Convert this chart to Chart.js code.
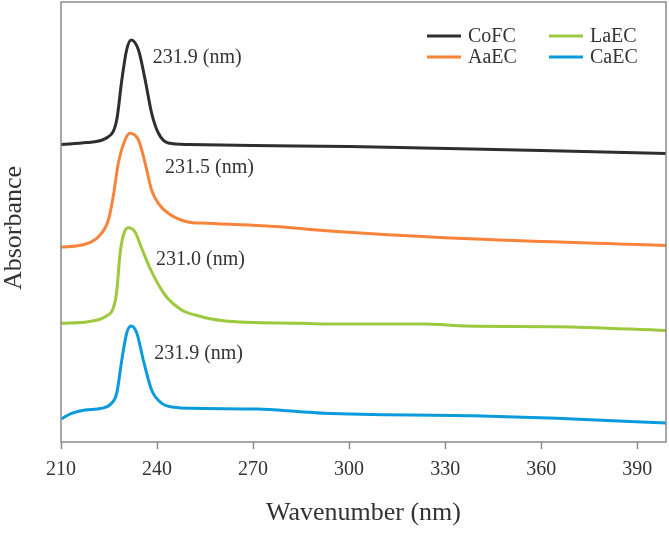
<!DOCTYPE html>
<html>
<head>
<meta charset="utf-8">
<script src="https://cdn.jsdelivr.net/npm/chart.js@4.4.1/dist/chart.umd.min.js"></script>
<style>
  html, body { margin: 0; padding: 0; background: #fff; }
  #wrap { width: 669px; height: 534px; }
</style>
</head>
<body>
<div id="wrap"><canvas id="uvChart" width="669" height="534"></canvas></div>
<script>
// wavelength (nm) and stacked absorbance values
const seriesNames = ['CoFC', 'AaEC', 'LaEC', 'CaEC'];
const seriesColors = ['#2e2e2e', '#f6843a', '#9dc93f', '#0a9bdc'];

const cofcX = [210, 218, 224.7, 227.4, 229, 230.5, 231.9, 234.2, 236.3, 238.3, 240.4, 243.5, 249.7, 270, 300, 323, 360, 399];
const cofcY = [2.975, 2.995, 3.05, 3.22, 3.62, 3.92, 4.02, 3.92, 3.62, 3.29, 3.09, 2.99, 2.975, 2.965, 2.955, 2.94, 2.915, 2.885];

const aaecX = [210, 216.5, 221.7, 224.8, 226.3, 227.9, 230, 231.5, 234.2, 236.3, 238.3, 240.4, 243.5, 249.3, 255.5, 274.3, 278.4, 289.9, 297.2, 333.7, 399];
const aaecY = [1.95, 1.97, 2.053, 2.22, 2.453, 2.787, 3.02, 3.087, 3.02, 2.787, 2.52, 2.387, 2.287, 2.203, 2.187, 2.16, 2.153, 2.12, 2.103, 2.037, 1.965];

const laecX = [210, 218.5, 223.8, 226.3, 227.4, 228.4, 229.5, 231.0, 233.1, 235.2, 238.3, 242.5, 247.7, 251.9, 260.7, 284.7, 292, 323.2, 336.8, 364.9, 399];
const laecY = [1.187, 1.203, 1.253, 1.337, 1.503, 1.87, 2.07, 2.143, 2.103, 1.937, 1.703, 1.47, 1.32, 1.27, 1.213, 1.187, 1.18, 1.18, 1.16, 1.153, 1.115];

const caecX = [210, 213.3, 217.5, 222.7, 225.8, 227.4, 229, 230.5, 231.9, 233.7, 235.7, 238.3, 241.5, 245.6, 250.8, 271.2, 284.7, 292, 338.8, 364.9, 399];
const caecY = [0.23, 0.287, 0.32, 0.337, 0.387, 0.487, 0.82, 1.087, 1.16, 1.087, 0.82, 0.52, 0.387, 0.347, 0.337, 0.33, 0.303, 0.287, 0.263, 0.237, 0.19];

const xTicks = [210, 240, 270, 300, 330, 360, 390];
const peakLabels = ['231.9 (nm)', '231.5 (nm)', '231.0 (nm)', '231.9 (nm)'];
// label anchor in data units (left edge, vertical middle)
const peakLabelAt = [[238.7, 3.84], [242.5, 2.74], [239.7, 1.82], [239.1, 0.88]];

const serif = "'Liberation Serif', 'DejaVu Serif', serif";
const textColor = '#333333';
const frameColor = '#8a8a8a';

function toPoints(xs, ys) {
    return xs.map((x, i) => ({ x: x, y: ys[i] }));
}

const allX = [cofcX, aaecX, laecX, caecX];
const allY = [cofcY, aaecY, laecY, caecY];

const datasets = seriesNames.map((name, i) => ({
    label: name,
    data: toPoints(allX[i], allY[i]),
    borderColor: seriesColors[i],
    backgroundColor: seriesColors[i],
    borderWidth: 3,
    pointRadius: 0,
    fill: false,
    cubicInterpolationMode: 'monotone'
}));

// frame around plot area + rotated y title
const framePlugin = {
    id: 'frame',
    afterDatasetsDraw(chart) {
        const a = chart.chartArea;
        const ctx = chart.ctx;
        ctx.save();
        ctx.strokeStyle = frameColor;
        ctx.lineWidth = 1.5;
        ctx.strokeRect(a.left, a.top, a.right - a.left, a.bottom - a.top);

        ctx.translate(a.left - 47, (a.top + a.bottom) / 2 + 6);
        ctx.rotate(-Math.PI / 2);
        ctx.font = '26px ' + serif;
        ctx.fillStyle = textColor;
        ctx.textAlign = 'center';
        ctx.textBaseline = 'middle';
        ctx.fillText('Absorbance', 0, 0);
        ctx.restore();
    }
};

// peak labels next to each curve
const peakLabelPlugin = {
    id: 'peakLabels',
    afterDatasetsDraw(chart) {
        const ctx = chart.ctx;
        const xs = chart.scales.x, ys = chart.scales.y;
        ctx.save();
        ctx.font = '20px ' + serif;
        ctx.fillStyle = textColor;
        ctx.textAlign = 'left';
        ctx.textBaseline = 'middle';
        peakLabels.forEach((t, i) => {
            ctx.fillText(t, xs.getPixelForValue(peakLabelAt[i][0]), ys.getPixelForValue(peakLabelAt[i][1]));
        });
        ctx.restore();
    }
};

// two column legend, top right
const legendPlugin = {
    id: 'twoColLegend',
    afterDraw(chart) {
        const a = chart.chartArea;
        const ctx = chart.ctx;
        const cols = [a.right - 239, a.right - 117];
        const rows = [a.top + 34, a.top + 55];
        ctx.save();
        ctx.font = '20px ' + serif;
        ctx.textAlign = 'left';
        ctx.textBaseline = 'middle';
        chart.data.datasets.forEach((ds, i) => {
            const cx = cols[Math.floor(i / 2)];
            const cy = rows[i % 2];
            ctx.strokeStyle = ds.borderColor;
            ctx.lineWidth = 3;
            ctx.beginPath();
            ctx.moveTo(cx, cy);
            ctx.lineTo(cx + 34, cy);
            ctx.stroke();
            ctx.fillStyle = textColor;
            ctx.fillText(ds.label, cx + 41, cy + 1);
        });
        ctx.restore();
    }
};

const ctx = document.getElementById('uvChart').getContext('2d');
new Chart(ctx, {
    type: 'line',
    data: { datasets: datasets },
    options: {
        responsive: false,
        animation: false,
        layout: { padding: { top: 2, right: 3, bottom: 5, left: 0 } },
        plugins: { legend: { display: false }, tooltip: { enabled: false } },
        scales: {
            x: {
                type: 'linear',
                min: 210,
                max: 399,
                afterBuildTicks: s => { s.ticks = xTicks.map(v => ({ value: v })); },
                afterFit: s => { s.height = 87; },
                ticks: {
                    font: { family: serif, size: 20 },
                    color: textColor,
                    padding: 9,
                    maxRotation: 0
                },
                grid: {
                    display: true,
                    drawOnChartArea: false,
                    drawTicks: true,
                    tickLength: 7,
                    tickWidth: 1.5,
                    tickColor: frameColor
                },
                border: { display: false },
                title: {
                    display: true,
                    text: 'Wavenumber (nm)',
                    font: { family: serif, size: 26 },
                    color: textColor,
                    padding: { top: 16, bottom: 0 }
                }
            },
            y: {
                type: 'linear',
                min: 0,
                max: 4.4,
                afterFit: s => { s.width = 61; },
                ticks: { display: false },
                grid: { display: false },
                border: { display: false },
                title: { display: false }
            }
        }
    },
    plugins: [framePlugin, peakLabelPlugin, legendPlugin]
});
</script>
</body>
</html>
